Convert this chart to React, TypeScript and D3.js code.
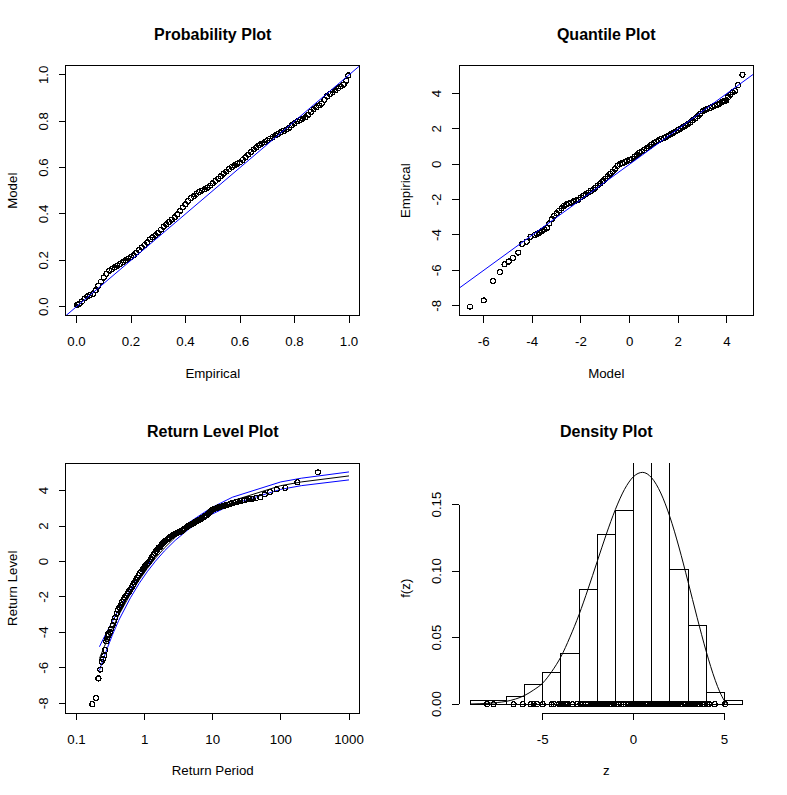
import React from "react";
import * as d3 from "d3";

const W = 787;
const H = 795;
const FONT = "'Liberation Sans', Arial, Helvetica, sans-serif";

// ---------------- Probability plot (empirical, model) ----------------
const ppPoints: [number, number][] = [
  [0.003, 0.007], [0.01, 0.012], [0.02, 0.022], [0.03, 0.035], [0.04, 0.045], [0.05, 0.05], [0.06, 0.055], [0.07, 0.07],
  [0.08, 0.09], [0.09, 0.108], [0.10, 0.125], [0.11, 0.142], [0.12, 0.155], [0.13, 0.162], [0.14, 0.17], [0.15, 0.177],
  [0.16, 0.184], [0.17, 0.192], [0.18, 0.2], [0.19, 0.207], [0.20, 0.214], [0.21, 0.222], [0.22, 0.233], [0.23, 0.244],
  [0.24, 0.255], [0.25, 0.266], [0.26, 0.278], [0.27, 0.29], [0.28, 0.299], [0.29, 0.308], [0.30, 0.318], [0.31, 0.332],
  [0.32, 0.345], [0.33, 0.355], [0.34, 0.365], [0.35, 0.375], [0.36, 0.385], [0.37, 0.399], [0.38, 0.414], [0.39, 0.428],
  [0.40, 0.442], [0.41, 0.456], [0.42, 0.468], [0.43, 0.477], [0.44, 0.486], [0.45, 0.494], [0.46, 0.5], [0.47, 0.507],
  [0.48, 0.513], [0.49, 0.522], [0.50, 0.532], [0.51, 0.542], [0.52, 0.552], [0.53, 0.562], [0.54, 0.573], [0.55, 0.583],
  [0.56, 0.593], [0.57, 0.603], [0.58, 0.61], [0.59, 0.616], [0.60, 0.622], [0.61, 0.633], [0.62, 0.645], [0.63, 0.656],
  [0.64, 0.667], [0.65, 0.678], [0.66, 0.688], [0.67, 0.696], [0.68, 0.703], [0.69, 0.71], [0.70, 0.717], [0.71, 0.725],
  [0.72, 0.732], [0.73, 0.739], [0.74, 0.745], [0.75, 0.752], [0.76, 0.758], [0.77, 0.764], [0.78, 0.772], [0.79, 0.782],
  [0.80, 0.791], [0.81, 0.8], [0.82, 0.806], [0.83, 0.811], [0.84, 0.817], [0.85, 0.828], [0.86, 0.84], [0.87, 0.851],
  [0.88, 0.86], [0.89, 0.868], [0.90, 0.876], [0.91, 0.892], [0.92, 0.908], [0.93, 0.918], [0.94, 0.926], [0.95, 0.934],
  [0.96, 0.942], [0.97, 0.95], [0.98, 0.958], [0.99, 0.975], [0.997, 0.998],
];
const ppTicks = [0, 0.2, 0.4, 0.6, 0.8, 1.0];
const ppTickLabels = ["0.0", "0.2", "0.4", "0.6", "0.8", "1.0"];

// ---------------- Quantile plot (model, empirical) ----------------
const qqPoints: [number, number][] = [
  [-6.56, -8.05], [-5.99, -7.7], [-5.62, -6.6], [-5.33, -6.1], [-5.14, -5.66], [-4.96, -5.5], [-4.8, -5.3], [-4.58, -5.0],
  [-4.41, -4.51], [-4.23, -4.38], [-4.07, -4.1],
  [-3.9, -4.0], [-3.8, -3.95], [-3.7, -3.88], [-3.6, -3.78], [-3.5, -3.68], [-3.4, -3.6], [-3.3, -3.35], [-3.2, -3.1],
  [-3.1, -2.92], [-3.0, -2.78], [-2.9, -2.62], [-2.8, -2.5], [-2.7, -2.35], [-2.6, -2.26], [-2.5, -2.22], [-2.4, -2.17],
  [-2.3, -2.1], [-2.2, -2.05], [-2.1, -2.0], [-2.0, -1.88], [-1.9, -1.78], [-1.8, -1.7], [-1.7, -1.6], [-1.6, -1.51],
  [-1.5, -1.43], [-1.4, -1.32], [-1.3, -1.2], [-1.2, -1.07], [-1.1, -0.95], [-1.0, -0.82], [-0.9, -0.68], [-0.8, -0.55],
  [-0.7, -0.42], [-0.6, -0.27], [-0.5, -0.1], [-0.4, 0.0], [-0.3, 0.06], [-0.2, 0.12], [-0.1, 0.18], [0.0, 0.24],
  [0.1, 0.32], [0.2, 0.42], [0.3, 0.52], [0.4, 0.64], [0.5, 0.72], [0.6, 0.8], [0.7, 0.9], [0.8, 1.0], [0.9, 1.1],
  [1.0, 1.2], [1.1, 1.28], [1.2, 1.35], [1.3, 1.42], [1.4, 1.48], [1.5, 1.55], [1.6, 1.62], [1.7, 1.7], [1.8, 1.77],
  [1.9, 1.85], [2.0, 1.93], [2.1, 2.0], [2.2, 2.1], [2.3, 2.18], [2.4, 2.27], [2.5, 2.38], [2.6, 2.48], [2.7, 2.6],
  [2.8, 2.72], [2.9, 2.85], [3.0, 3.0], [3.1, 3.08], [3.2, 3.13], [3.3, 3.18], [3.4, 3.25], [3.5, 3.3], [3.6, 3.36],
  [3.7, 3.42], [3.79, 3.52], [3.85, 3.55], [3.91, 3.58], [3.98, 3.62], [4.05, 3.79], [4.14, 3.92], [4.23, 4.07],
  [4.33, 4.15], [4.46, 4.47], [4.64, 5.05],
];
const qqXTicks = [-6, -4, -2, 0, 2, 4];
const qqYTicks = [-8, -6, -4, -2, 0, 2, 4];

// ---------------- Return level plot ----------------
const rlPoints: [number, number][] = [
  [0.1707, -8.05], [0.1935, -7.7], [0.21, -6.6], [0.2235, -6.1], [0.2352, -5.66], [0.2458, -5.5], [0.2554, -5.3],
  [0.2645, -5.0], [0.273, -4.51], [0.281, -4.38], [0.2888, -4.1],
  [0.2951, -4.15], [0.309, -3.98], [0.3236, -3.8], [0.3388, -3.6], [0.3548, -3.38], [0.3715, -3.15], [0.389, -2.95],
  [0.4074, -2.75], [0.4266, -2.6], [0.4467, -2.45], [0.4677, -2.3], [0.4898, -2.16], [0.5129, -2.03], [0.537, -1.92],
  [0.5623, -1.81], [0.5888, -1.7], [0.6166, -1.58], [0.6457, -1.45], [0.6761, -1.32], [0.7079, -1.18], [0.7413, -1.04],
  [0.7762, -0.9], [0.8128, -0.78], [0.8511, -0.66], [0.8913, -0.55], [0.9333, -0.45], [0.9772, -0.35], [1.023, -0.25],
  [1.072, -0.18], [1.122, -0.1], [1.175, 0.0], [1.23, 0.12], [1.288, 0.25], [1.349, 0.37], [1.413, 0.48], [1.479, 0.6],
  [1.549, 0.7], [1.622, 0.78], [1.698, 0.86], [1.778, 0.95], [1.862, 1.05], [1.95, 1.12], [2.042, 1.18], [2.138, 1.24],
  [2.239, 1.3], [2.344, 1.37], [2.455, 1.42], [2.57, 1.47], [2.692, 1.51], [2.818, 1.55], [2.951, 1.59], [3.09, 1.63],
  [3.236, 1.66], [3.388, 1.7], [3.548, 1.74], [3.715, 1.79], [3.89, 1.85], [4.074, 1.92], [4.266, 1.98], [4.467, 2.02],
  [4.677, 2.06], [4.898, 2.1], [5.129, 2.15], [5.37, 2.19], [5.623, 2.24], [5.888, 2.28], [6.166, 2.33], [6.457, 2.37],
  [6.761, 2.41], [7.079, 2.46], [7.413, 2.51], [7.762, 2.56], [8.128, 2.62], [8.511, 2.68], [8.913, 2.75], [9.333, 2.83],
  [9.772, 2.9], [10.23, 2.95], [10.72, 2.98], [11.22, 3.0], [11.75, 3.03], [12.3, 3.06], [12.88, 3.08], [13.49, 3.1],
  [14.13, 3.12], [14.79, 3.15], [15.49, 3.17], [16.6, 3.2], [17.78, 3.24], [19.05, 3.28], [20.42, 3.32], [21.88, 3.35],
  [23.44, 3.38], [25.12, 3.41], [26.92, 3.44], [28.84, 3.47],
  [31.4, 3.5], [34.6, 3.52], [38.5, 3.55], [43.4, 3.58], [49.6, 3.62], [58.0, 3.79], [69.7, 3.92], [87.3, 4.07],
  [116.5, 4.15], [175, 4.47], [350.5, 5.03],
];
const rlPeriod = [0.2171, 0.2556, 0.2852, 0.3107, 0.3338, 0.3554, 0.376, 0.3959, 0.4153, 0.4343, 0.6213, 0.8306,
  1.0913, 1.4427, 1.9576, 2.8037, 4.4814, 9.4912, 19.496, 99.499, 199.5, 999.5];
const rlFit = [-5.48, -4.81, -4.38, -4.06, -3.79, -3.57, -3.38, -3.2, -3.04, -2.9, -1.82, -1.05, -0.4, 0.19, 0.77,
  1.36, 2.02, 2.84, 3.43, 4.28, 4.49, 4.83];
const rlUpper = [-4.81, -4.26, -3.9, -3.63, -3.4, -3.21, -3.04, -2.88, -2.74, -2.61, -1.6, -0.86, -0.22, 0.36, 0.94,
  1.53, 2.2, 3.03, 3.63, 4.49, 4.7, 5.055];
const rlLower = [-6.15, -5.36, -4.86, -4.49, -4.18, -3.93, -3.72, -3.52, -3.34, -3.19, -2.04, -1.24, -0.58, 0.02, 0.6,
  1.19, 1.84, 2.65, 3.23, 4.07, 4.28, 4.605];
const rlXTicks = [0.1, 1, 10, 100, 1000];
const rlXTickLabels = ["0.1", "1", "10", "100", "1000"];
const rlYTicks = [-8, -6, -4, -2, 0, 2, 4];

// ---------------- Density plot ----------------
const histBreaks = [-9, -8, -7, -6, -5, -4, -3, -2, -1, 0, 1, 2, 3, 4, 5, 6];
const histDensity = [0.0028, 0.0028, 0.0058, 0.0148, 0.0238, 0.038, 0.086, 0.1275, 0.1455, 0.19, 0.19, 0.1014,
  0.0594, 0.0087, 0.0028];
const densZ = [-9, -8.5, -8, -7.5, -7, -6.5, -6, -5.5, -5, -4.5, -4, -3.5, -3, -2.5, -2, -1.5, -1, -0.5, 0, 0.5, 1,
  1.5, 2, 2.5, 3, 3.5, 4, 4.25, 4.5, 4.75, 5, 5.1, 5.19];
const densF = [0.0001, 0.0003, 0.0006, 0.0012, 0.0021, 0.0038, 0.0065, 0.0106, 0.0158, 0.0245, 0.0355, 0.0503,
  0.0672, 0.0866, 0.1071, 0.1276, 0.1462, 0.1613, 0.171, 0.1742, 0.1701, 0.1587, 0.1409, 0.1181, 0.0921, 0.0652,
  0.0397, 0.0282, 0.0179, 0.0092, 0.0027, 0.0009, 0.0];
const denXTicks = [-5, 0, 5];
const denYTicks = [0, 0.05, 0.1, 0.15];
const denYTickLabels = ["0.00", "0.05", "0.10", "0.15"];

// ---------------- layout helpers ----------------
type Box = { left: number; right: number; top: number; bottom: number };
const panelBox = (col: number, row: number): Box => ({
  left: col * 393.5 + 65.6,
  right: col * 393.5 + 359.9,
  top: row * 397.5 + 65.6,
  bottom: row * 397.5 + 315.9,
});

// extend a data range by 4% (R "r" axis style)
const ext = (lo: number, hi: number): [number, number] => {
  const d = (hi - lo) * 0.04;
  return [lo - d, hi + d];
};

type Tick = { v: number; label: string };

const FS = 13.3;
const R = 2.5;

function Panel(props: {
  id: string;
  b: Box;
  x: (v: number) => number;
  y: (v: number) => number;
  title: string;
  xLabel: string;
  yLabel: string;
  xTicks: Tick[];
  yTicks: Tick[];
  framed: boolean;
  children?: React.ReactNode;
}) {
  const { id, b, x, y, title, xLabel, yLabel, xTicks, yTicks, framed, children } = props;
  const cx = (b.left + b.right) / 2;
  const cy = (b.top + b.bottom) / 2;
  const xAxisY = b.bottom;
  const yAxisX = b.left;
  return (
    <g>
      <defs>
        <clipPath id={id}>
          <rect x={b.left} y={b.top} width={b.right - b.left} height={b.bottom - b.top} />
        </clipPath>
      </defs>
      <g clipPath={`url(#${id})`}>{children}</g>
      {framed && (
        <rect x={b.left} y={b.top} width={b.right - b.left} height={b.bottom - b.top}
          fill="none" stroke="#000" strokeWidth={1} shapeRendering="crispEdges" />
      )}
      {!framed && (
        <g shapeRendering="crispEdges" stroke="#000" strokeWidth={1}>
          <line x1={x(xTicks[0].v)} x2={x(xTicks[xTicks.length - 1].v)} y1={xAxisY} y2={xAxisY} />
          <line y1={y(yTicks[0].v)} y2={y(yTicks[yTicks.length - 1].v)} x1={yAxisX} x2={yAxisX} />
        </g>
      )}
      {xTicks.map((t) => (
        <g key={"x" + t.label}>
          <line x1={x(t.v)} x2={x(t.v)} y1={xAxisY} y2={xAxisY + 7} stroke="#000" shapeRendering="crispEdges" />
          <text x={x(t.v)} y={xAxisY + 26} textAnchor="middle" dominantBaseline="central"
            fontSize={FS} fontFamily={FONT}>{t.label}</text>
        </g>
      ))}
      {yTicks.map((t) => (
        <g key={"y" + t.label}>
          <line x1={yAxisX - 7} x2={yAxisX} y1={y(t.v)} y2={y(t.v)} stroke="#000" shapeRendering="crispEdges" />
          <text transform={`translate(${yAxisX - 22.5},${y(t.v)}) rotate(-90)`} textAnchor="middle"
            dominantBaseline="central" fontSize={FS} fontFamily={FONT}>{t.label}</text>
        </g>
      ))}
      <text x={cx} y={b.top - 31.5} textAnchor="middle" dominantBaseline="central" fontSize={16}
        fontWeight="bold" fontFamily={FONT}>{title}</text>
      <text x={cx} y={b.bottom + 57.5} textAnchor="middle" dominantBaseline="central" fontSize={FS}
        fontFamily={FONT}>{xLabel}</text>
      <text transform={`translate(${b.left - 53.5},${cy}) rotate(-90)`} textAnchor="middle"
        dominantBaseline="central" fontSize={FS} fontFamily={FONT}>{yLabel}</text>
    </g>
  );
}

const Circles = ({ pts, x, y }: { pts: [number, number][]; x: (v: number) => number; y: (v: number) => number }) => (
  <g fill="none" stroke="#000" strokeWidth={1.2} shapeRendering="crispEdges">
    {pts.map((p, i) => (
      <circle key={i} cx={x(p[0])} cy={y(p[1])} r={R} />
    ))}
  </g>
);

export default function App() {
  // Panel 1: probability plot
  const b1 = panelBox(0, 0);
  const x1 = d3.scaleLinear().domain(ext(0, 1)).range([b1.left, b1.right]);
  const y1 = d3.scaleLinear().domain(ext(0, 1)).range([b1.bottom, b1.top]);

  // Panel 2: quantile plot
  const b2 = panelBox(1, 0);
  const qqX = d3.extent(qqPoints, (d) => d[0]) as [number, number];
  const qqY = d3.extent(qqPoints, (d) => d[1]) as [number, number];
  const x2 = d3.scaleLinear().domain(ext(qqX[0], qqX[1])).range([b2.left, b2.right]);
  const y2 = d3.scaleLinear().domain(ext(qqY[0], qqY[1])).range([b2.bottom, b2.top]);

  // Panel 3: return level plot
  const b3 = panelBox(0, 1);
  const lx = ext(Math.log10(0.1), Math.log10(1000));
  const x3 = d3.scaleLog().domain([Math.pow(10, lx[0]), Math.pow(10, lx[1])]).range([b3.left, b3.right]);
  const rlYmin = Math.min(d3.min(rlPoints, (d) => d[1]) as number, d3.min(rlFit) as number);
  const rlYmax = Math.max(d3.max(rlPoints, (d) => d[1]) as number, d3.max(rlFit) as number);
  const y3 = d3.scaleLinear().domain(ext(rlYmin, rlYmax)).range([b3.bottom, b3.top]);
  const rlLine = (vals: number[]) =>
    d3.line<number>().x((_, i) => x3(rlPeriod[i])).y((v) => y3(v))(vals) || "";

  // Panel 4: density plot
  const b4 = panelBox(1, 1);
  const x4 = d3.scaleLinear().domain(ext(histBreaks[0], histBreaks[histBreaks.length - 1])).range([b4.left, b4.right]);
  const y4 = d3.scaleLinear().domain(ext(0, d3.max(densF) as number)).range([b4.bottom, b4.top]);
  const densPath =
    d3.line<number>().x((_, i) => x4(densZ[i])).y((v) => y4(v)).curve(d3.curveMonotoneX)(densF) || "";
  const rug = qqPoints.map((p) => p[1]);

  const tk = (vals: number[], labels?: string[]): Tick[] =>
    vals.map((v, i) => ({ v, label: labels ? labels[i] : String(v) }));

  return (
    <svg width={W} height={H} viewBox={`0 0 ${W} ${H}`}
      style={{ position: "absolute", left: 0, top: 0, background: "#fff" }}>
      <rect x={0} y={0} width={W} height={H} fill="#fff" />

      <Panel id="c1" b={b1} x={x1} y={y1} title="Probability Plot" xLabel="Empirical" yLabel="Model"
        xTicks={tk(ppTicks, ppTickLabels)} yTicks={tk(ppTicks, ppTickLabels)} framed>
        <Circles pts={ppPoints} x={x1} y={y1} />
        <line x1={x1(-0.1)} y1={y1(-0.1)} x2={x1(1.1)} y2={y1(1.1)} stroke="#0000ff" strokeWidth={1} />
      </Panel>

      <Panel id="c2" b={b2} x={x2} y={y2} title="Quantile Plot" xLabel="Model" yLabel="Empirical"
        xTicks={tk(qqXTicks)} yTicks={tk(qqYTicks)} framed>
        <Circles pts={qqPoints} x={x2} y={y2} />
        <line x1={x2(-10)} y1={y2(-10)} x2={x2(10)} y2={y2(10)} stroke="#0000ff" strokeWidth={1} />
      </Panel>

      <Panel id="c3" b={b3} x={x3} y={y3} title="Return Level Plot" xLabel="Return Period" yLabel="Return Level"
        xTicks={tk(rlXTicks, rlXTickLabels)} yTicks={tk(rlYTicks)} framed>
        <path d={rlLine(rlFit)} fill="none" stroke="#000" strokeWidth={1} />
        <path d={rlLine(rlUpper)} fill="none" stroke="#0000ff" strokeWidth={1} />
        <path d={rlLine(rlLower)} fill="none" stroke="#0000ff" strokeWidth={1} />
        <Circles pts={rlPoints} x={x3} y={y3} />
      </Panel>

      <Panel id="c4" b={b4} x={x4} y={y4} title="Density Plot" xLabel="z" yLabel="f(z)"
        xTicks={tk(denXTicks)} yTicks={tk(denYTicks, denYTickLabels)} framed={false}>
        <g fill="none" stroke="#000" strokeWidth={1} shapeRendering="crispEdges">
          {histDensity.map((d, i) => (
            <rect key={i} x={x4(histBreaks[i])} y={y4(d)} width={x4(histBreaks[i + 1]) - x4(histBreaks[i])}
              height={y4(0) - y4(d)} />
          ))}
        </g>
        <g fill="none" stroke="#000" strokeWidth={1.2} shapeRendering="crispEdges">
          {rug.map((v, i) => (
            <circle key={i} cx={x4(v)} cy={y4(0)} r={R} />
          ))}
        </g>
        <path d={densPath} fill="none" stroke="#000" strokeWidth={1} />
      </Panel>
    </svg>
  );
}
